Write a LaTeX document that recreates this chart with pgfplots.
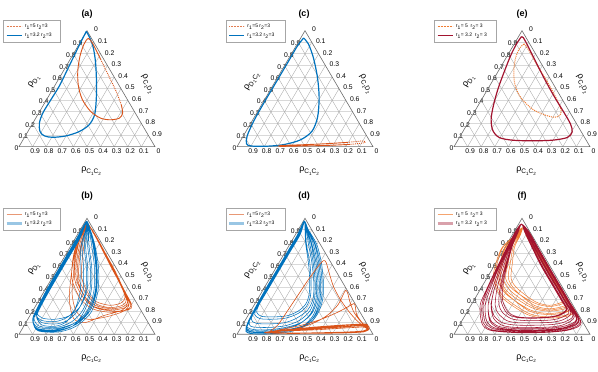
\documentclass[border=0pt]{standalone}
\usepackage{fontspec}
\setmainfont{Liberation Sans}
\usepackage{pgfplots}
\pgfplotsset{compat=1.18}

\definecolor{mblue}{RGB}{0,114,189}
\definecolor{morange}{RGB}{217,83,25}
\definecolor{mcrim}{RGB}{162,20,47}
\definecolor{lorange}{RGB}{240,125,50}

\tikzset{
  hgrid/.style={gray!30, line width=0.9pt},
  dgrid/.style={gray!70, line width=0.35pt},
  frame/.style={gray!85!black, line width=0.6pt},
  tk/.style={font=\fontsize{6.8}{7}\selectfont, inner sep=0pt},
  albl/.style={font=\fontsize{9}{10}\selectfont, inner sep=0pt},
  ttl/.style={font=\bfseries\fontsize{9}{10}\selectfont},
  legtxt/.style={font=\fontsize{5}{6}\selectfont, inner sep=0pt},
  ldot/.style={#1, line width=0.9pt, dash pattern=on 0.6pt off 0.9pt},
  lthin/.style={#1, line width=0.6pt},
  lfat/.style={#1, opacity=0.4, line width=2.2pt},
}

% rho with subscripts
\newcommand{\sbs}[1]{\raisebox{-0.4ex}{\fontsize{4.5}{5}\selectfont #1}}
\newcommand{\rlab}[4]{ρ\raisebox{-0.5ex}{\fontsize{6.5}{7}\selectfont #1\sbs{#2}#3\sbs{#4}}}
\newcommand{\rlabone}[2]{ρ\raisebox{-0.5ex}{\fontsize{6.5}{7}\selectfont #1\sbs{#2}}}
\newcommand{\rr}[2]{r\textsubscript{1}=#1 r\textsubscript{2}=#2}
\newcommand{\rs}[2]{r\textsubscript{1}= #1\ \ r\textsubscript{2}= #2}

% boxed two-row key: x, y (rel axis), box width, style 1, text 1, style 2, text 2
\newcommand{\keybox}[7]{%
  \draw[draw=gray!70, fill=white, line width=0.4pt] (rel axis cs:#1,#2) rectangle ++(#3,-22pt);
  \draw[#4] (rel axis cs:#1,#2) ++(3pt,-6.5pt) -- ++(15pt,0pt);
  \draw[#6] (rel axis cs:#1,#2) ++(3pt,-15.5pt) -- ++(15pt,0pt);
  \path (rel axis cs:#1,#2) ++(21pt,-6.5pt) node[anchor=west, legtxt] {#5};
  \path (rel axis cs:#1,#2) ++(21pt,-15.5pt) node[anchor=west, legtxt] {#7};
}

\pgfplotsset{
  tern/.style={
    scale only axis, width=136pt, height=116pt,
    xmin=0, xmax=1, ymin=0, ymax=1,
    hide axis, clip=false, anchor=south west,
  },
}

% triangle, grid, ticks and axis names
\newcommand{\ternframe}[1]{%
  \pgfplotsinvokeforeach{1,...,9}{%
    \draw[hgrid] (axis cs:##1/20,##1/10) -- (axis cs:1-##1/20,##1/10);
  }
  \pgfplotsinvokeforeach{1,...,9}{%
    \draw[dgrid] (axis cs:##1/10,0) -- (axis cs:0.5+##1/20,1-##1/10);
    \draw[dgrid] (axis cs:1-##1/10,0) -- (axis cs:0.5-##1/20,1-##1/10);
    \node[tk,xshift=-2.5pt,yshift=-1.2pt] at (axis cs:##1/20,##1/10) {0.##1};
    \node[tk,xshift=9pt,yshift=1.2pt] at (axis cs:0.5+##1/20,1-##1/10) {0.##1};
    \node[tk,xshift=2.5pt,yshift=-4.8pt] at (axis cs:1-##1/10,0) {0.##1};
  }
  \draw[frame] (axis cs:0,0) -- (axis cs:1,0) -- (axis cs:0.5,1) -- cycle;
  \node[tk,xshift=-2.5pt,yshift=-1.5pt] at (axis cs:0,0) {0};
  \node[tk,xshift=9pt,yshift=1.2pt] at (axis cs:0.5,1) {0};
  \node[tk,xshift=3.5pt,yshift=-4.5pt] at (axis cs:1,0) {0};
  \node[albl,rotate=60] at (axis cs:0.11,0.56) {#1};
  \node[albl,rotate=-60] at (axis cs:0.945,0.54) {\rlab{C}{1}{D}{2}};
  \node[albl] at (axis cs:0.53,-0.21) {\rlab{C}{1}{C}{2}};
}

\begin{document}
\begin{tikzpicture}
\path[use as bounding box] (0,0) rectangle (598pt,372pt);

\node[ttl] at (87pt,358pt) {(a)};
\node[ttl] at (304pt,358pt) {(c)};
\node[ttl] at (522pt,358pt) {(e)};
\node[ttl] at (87pt,176pt) {(b)};
\node[ttl] at (304pt,176pt) {(d)};
\node[ttl] at (522pt,176pt) {(f)};

% ---------------- (a)
\begin{axis}[tern, at={(19pt,225.3pt)}]
\ternframe{\rlabone{D}{1}}
\addplot[morange, densely dotted, line width=0.9pt, smooth] coordinates {
(0.600,0.754) (0.660,0.609) (0.714,0.478) (0.752,0.362)};
\addplot[mblue, line width=1.2pt, smooth] coordinates {
(0.495,0.994) (0.466,0.928) (0.417,0.812) (0.357,0.667) (0.296,0.522) (0.235,0.406)
(0.175,0.290) (0.150,0.203) (0.155,0.130) (0.187,0.093) (0.248,0.081) (0.345,0.093)
(0.442,0.130) (0.515,0.188) (0.556,0.275) (0.568,0.406) (0.570,0.551) (0.563,0.725)
(0.546,0.855) (0.519,0.942) (0.495,0.994)};
\addplot[morange, line width=0.9pt, smooth] coordinates {
(0.752,0.362) (0.762,0.290) (0.738,0.246) (0.672,0.232) (0.600,0.246) (0.527,0.304)
(0.466,0.406) (0.437,0.522) (0.432,0.652) (0.449,0.783) (0.478,0.884) (0.510,0.933)
(0.544,0.884) (0.600,0.754)};
\keybox{-0.1125}{1.092}{57pt}{ldot=morange!75}{\rr{5}{3}}{color=mblue, line width=1.1pt}{\rr{3.2}{3}}
\end{axis}

% ---------------- (c)
\begin{axis}[tern, at={(237pt,225.3pt)}]
\ternframe{\rlab{D}{1}{C}{2}}
\addplot[morange, densely dotted, line width=0.9pt, smooth] coordinates {
(0.809,0.037) (0.928,0.049) (0.938,0.034) (0.834,0.020)};
\addplot[mblue, line width=1.2pt, smooth] coordinates {
(0.490,0.937) (0.443,0.866) (0.372,0.723) (0.285,0.551) (0.199,0.380) (0.124,0.223)
(0.075,0.094) (0.070,0.025) (0.104,0.006) (0.215,0.004) (0.339,0.017) (0.463,0.057)
(0.550,0.131) (0.592,0.251) (0.604,0.423) (0.592,0.594) (0.562,0.766) (0.525,0.886)
(0.490,0.937)};
\addplot[morange, line width=0.9pt, smooth] coordinates {
(0.834,0.020) (0.661,0.011) (0.463,0.006) (0.314,0.003) (0.327,0.011) (0.413,0.014)
(0.611,0.023) (0.809,0.037)};
\keybox{-0.079}{1.092}{59pt}{ldot=morange!75}{\rr{5}{3}}{color=mblue, line width=1.1pt}{\rr{3.2}{3}}
\end{axis}

% ---------------- (e)
\begin{axis}[tern, at={(454pt,225.3pt)}]
\ternframe{\rlabone{D}{1}}
\addplot[lorange, densely dotted, line width=1pt, smooth] coordinates {
(0.516,0.887) (0.557,0.817) (0.625,0.676) (0.698,0.535) (0.759,0.400) (0.788,0.310)
(0.776,0.268) (0.735,0.254) (0.662,0.276) (0.577,0.324) (0.491,0.423) (0.448,0.535)
(0.440,0.662) (0.455,0.775) (0.484,0.851) (0.516,0.887)};
\addplot[mcrim, line width=1.2pt, smooth] coordinates {
(0.496,0.949) (0.460,0.887) (0.418,0.789) (0.370,0.648) (0.326,0.507) (0.292,0.366)
(0.273,0.239) (0.285,0.141) (0.333,0.079) (0.431,0.056) (0.577,0.051) (0.723,0.056)
(0.832,0.079) (0.869,0.127) (0.856,0.197) (0.808,0.296) (0.735,0.437) (0.662,0.592)
(0.589,0.761) (0.535,0.887) (0.509,0.941) (0.496,0.949)};
\keybox{-0.142}{1.092}{62pt}{ldot=lorange}{\rs{5}{3}}{color=mcrim, line width=1.1pt}{\rs{3.2}{3}}
\end{axis}

% ---------------- (b)
\begin{axis}[tern, at={(19pt,37.7pt)}]
\ternframe{\rlabone{D}{1}}
\addplot[morange, line width=0.5pt, smooth] coordinates {
(0.505,0.95) (0.555,0.86) (0.625,0.71) (0.695,0.55) (0.75,0.42) (0.80,0.29) (0.77,0.24) (0.68,0.22) (0.56,0.25) (0.48,0.33) (0.42,0.48) (0.425,0.64) (0.45,0.79) (0.48,0.90)
(0.505,0.95) (0.56,0.86) (0.63,0.71) (0.70,0.55) (0.76,0.41) (0.82,0.26) (0.79,0.21) (0.67,0.19) (0.54,0.22) (0.45,0.31) (0.39,0.47) (0.395,0.64) (0.425,0.79) (0.47,0.90)
(0.51,0.945) (0.555,0.86) (0.62,0.71) (0.69,0.55) (0.745,0.43) (0.78,0.32) (0.75,0.27) (0.67,0.25) (0.57,0.28) (0.51,0.35) (0.46,0.49) (0.465,0.64) (0.48,0.79) (0.49,0.90)
(0.505,0.95) (0.56,0.86) (0.625,0.71) (0.70,0.55) (0.755,0.42) (0.81,0.27) (0.77,0.20) (0.64,0.15) (0.50,0.13) (0.42,0.20) (0.39,0.35) (0.40,0.50) (0.41,0.66) (0.44,0.80) (0.48,0.90)
(0.505,0.95) (0.553,0.86) (0.622,0.71) (0.692,0.55) (0.748,0.42) (0.79,0.30) (0.76,0.25) (0.67,0.23) (0.57,0.26) (0.50,0.34) (0.44,0.48) (0.445,0.64) (0.465,0.79) (0.485,0.90)
(0.505,0.95) (0.56,0.86) (0.63,0.71) (0.705,0.55) (0.765,0.40) (0.83,0.25) (0.80,0.21) (0.69,0.20) (0.56,0.23) (0.47,0.32) (0.41,0.47) (0.415,0.64) (0.44,0.79) (0.475,0.90)
(0.505,0.95) (0.555,0.86) (0.625,0.71) (0.695,0.55) (0.75,0.42) (0.80,0.28) (0.76,0.21) (0.62,0.16) (0.48,0.10) (0.40,0.14) (0.37,0.30) (0.38,0.47) (0.40,0.64) (0.43,0.79) (0.47,0.90)
(0.505,0.95) (0.557,0.86) (0.627,0.71) (0.698,0.55) (0.755,0.42) (0.81,0.28) (0.78,0.23) (0.68,0.21) (0.55,0.24) (0.48,0.33) (0.43,0.48) (0.435,0.64) (0.46,0.79) (0.485,0.90) (0.505,0.95)};
\addplot[mblue, line width=0.5pt, smooth] coordinates {
(0.495,0.975) (0.42,0.82) (0.32,0.62) (0.22,0.42) (0.14,0.24) (0.10,0.12) (0.14,0.04) (0.28,0.03) (0.41,0.08) (0.51,0.20) (0.56,0.37) (0.565,0.57) (0.545,0.76) (0.52,0.90)
(0.497,0.97) (0.43,0.82) (0.33,0.62) (0.23,0.42) (0.15,0.24) (0.11,0.14) (0.15,0.07) (0.28,0.06) (0.39,0.11) (0.47,0.21) (0.52,0.37) (0.525,0.57) (0.505,0.76) (0.51,0.90)
(0.495,0.975) (0.425,0.82) (0.325,0.62) (0.225,0.42) (0.145,0.24) (0.105,0.11) (0.14,0.03) (0.29,0.02) (0.42,0.07) (0.53,0.19) (0.58,0.37) (0.585,0.57) (0.56,0.76) (0.525,0.90)
(0.498,0.965) (0.44,0.82) (0.34,0.62) (0.24,0.42) (0.16,0.25) (0.13,0.16) (0.17,0.10) (0.28,0.09) (0.37,0.13) (0.44,0.22) (0.49,0.37) (0.495,0.57) (0.48,0.76) (0.50,0.90)
(0.495,0.975) (0.42,0.82) (0.32,0.62) (0.22,0.42) (0.14,0.24) (0.10,0.125) (0.135,0.05) (0.27,0.04) (0.40,0.09) (0.50,0.20) (0.55,0.37) (0.555,0.57) (0.535,0.76) (0.515,0.90)
(0.497,0.97) (0.435,0.82) (0.335,0.62) (0.235,0.42) (0.155,0.25) (0.125,0.17) (0.165,0.12) (0.27,0.11) (0.36,0.15) (0.42,0.23) (0.47,0.37) (0.475,0.57) (0.465,0.76) (0.495,0.90)
(0.495,0.975) (0.42,0.82) (0.32,0.62) (0.22,0.42) (0.14,0.24) (0.10,0.13) (0.14,0.06) (0.28,0.05) (0.415,0.10) (0.52,0.20) (0.57,0.37) (0.575,0.57) (0.555,0.76) (0.52,0.90)
(0.496,0.972) (0.43,0.82) (0.33,0.62) (0.23,0.42) (0.15,0.24) (0.105,0.115) (0.14,0.035) (0.27,0.025) (0.40,0.075) (0.48,0.20) (0.53,0.37) (0.535,0.57) (0.515,0.76) (0.51,0.90)
(0.498,0.965) (0.445,0.82) (0.345,0.62) (0.245,0.42) (0.165,0.25) (0.13,0.15) (0.17,0.08) (0.27,0.07) (0.35,0.11) (0.41,0.21) (0.45,0.37) (0.455,0.57) (0.455,0.76) (0.49,0.90)
(0.496,0.972) (0.425,0.82) (0.325,0.62) (0.225,0.42) (0.15,0.26) (0.13,0.19) (0.17,0.14) (0.27,0.13) (0.37,0.16) (0.45,0.24) (0.50,0.38) (0.505,0.57) (0.49,0.76) (0.505,0.90)
(0.495,0.975) (0.42,0.82) (0.32,0.62) (0.22,0.42) (0.14,0.24) (0.10,0.12) (0.14,0.045) (0.28,0.035) (0.42,0.085) (0.52,0.20) (0.565,0.37) (0.57,0.57) (0.55,0.76) (0.52,0.90) (0.495,0.975)};
\keybox{-0.1125}{1.089}{57pt}{lthin=morange!60}{\rr{5}{3}}{lfat=mblue}{\rr{3.2}{3}}
\end{axis}

% ---------------- (d)
\begin{axis}[tern, at={(237pt,37.7pt)}]
\ternframe{\rlab{D}{1}{C}{2}}
\addplot[mblue, line width=0.55pt, smooth] coordinates {
(0.495,0.975) (0.448,0.86) (0.368,0.70) (0.288,0.54) (0.208,0.38) (0.128,0.21) (0.078,0.09) (0.068,0.026) (0.118,0.006) (0.24,0.006) (0.36,0.026) (0.48,0.066) (0.56,0.163) (0.60,0.30) (0.605,0.45) (0.59,0.62) (0.56,0.78) (0.52,0.90)
(0.497,0.97) (0.452,0.86) (0.372,0.70) (0.292,0.54) (0.212,0.38) (0.132,0.21) (0.082,0.09) (0.072,0.035) (0.122,0.015) (0.24,0.015) (0.36,0.035) (0.51,0.075) (0.59,0.17) (0.63,0.30) (0.635,0.45) (0.62,0.62) (0.585,0.78) (0.525,0.90)
(0.496,0.972) (0.46,0.86) (0.38,0.70) (0.30,0.54) (0.22,0.38) (0.15,0.24) (0.13,0.17) (0.17,0.135) (0.26,0.13) (0.36,0.14) (0.45,0.18) (0.51,0.24) (0.54,0.33) (0.545,0.46) (0.535,0.62) (0.51,0.78) (0.505,0.90)
(0.495,0.975) (0.45,0.86) (0.37,0.70) (0.29,0.54) (0.21,0.38) (0.13,0.21) (0.08,0.09) (0.07,0.05) (0.12,0.03) (0.24,0.03) (0.36,0.05) (0.46,0.09) (0.54,0.175) (0.58,0.30) (0.585,0.45) (0.57,0.62) (0.545,0.78) (0.515,0.90)
(0.496,0.972) (0.455,0.86) (0.375,0.70) (0.295,0.54) (0.215,0.38) (0.14,0.22) (0.105,0.13) (0.14,0.095) (0.24,0.09) (0.35,0.10) (0.44,0.14) (0.52,0.21) (0.56,0.31) (0.565,0.45) (0.55,0.62) (0.525,0.78) (0.51,0.90)
(0.494,0.978) (0.445,0.86) (0.365,0.70) (0.285,0.54) (0.205,0.38) (0.125,0.21) (0.075,0.09) (0.065,0.024) (0.115,0.004) (0.25,0.004) (0.38,0.02) (0.49,0.065) (0.57,0.16) (0.61,0.30) (0.615,0.45) (0.60,0.62) (0.57,0.78) (0.52,0.90)
(0.496,0.972) (0.452,0.86) (0.372,0.70) (0.292,0.54) (0.212,0.38) (0.135,0.21) (0.09,0.11) (0.10,0.07) (0.15,0.06) (0.25,0.06) (0.36,0.075) (0.46,0.12) (0.535,0.20) (0.57,0.31) (0.575,0.45) (0.56,0.62) (0.535,0.78) (0.515,0.90)
(0.495,0.975) (0.45,0.86) (0.37,0.70) (0.29,0.54) (0.21,0.38) (0.13,0.21) (0.08,0.09) (0.07,0.04) (0.12,0.02) (0.24,0.02) (0.37,0.04) (0.50,0.08) (0.58,0.17) (0.62,0.30) (0.625,0.45) (0.61,0.62) (0.575,0.78) (0.52,0.90)
(0.497,0.97) (0.465,0.86) (0.385,0.70) (0.305,0.54) (0.225,0.38) (0.16,0.25) (0.145,0.19) (0.18,0.155) (0.27,0.15) (0.37,0.16) (0.45,0.20) (0.505,0.26) (0.53,0.34) (0.535,0.46) (0.525,0.62) (0.505,0.78) (0.50,0.90)
(0.495,0.975) (0.448,0.86) (0.368,0.70) (0.288,0.54) (0.208,0.38) (0.128,0.21) (0.078,0.09) (0.075,0.06) (0.125,0.04) (0.24,0.04) (0.36,0.06) (0.47,0.10) (0.55,0.18) (0.59,0.30) (0.595,0.45) (0.58,0.62) (0.55,0.78) (0.515,0.90) (0.495,0.975)};
\addplot[morange, line width=0.6pt, smooth] coordinates {
(0.20,0.015) (0.40,0.010) (0.60,0.012) (0.80,0.018) (0.93,0.030) (0.965,0.052) (0.945,0.078) (0.82,0.070) (0.62,0.052) (0.42,0.035) (0.26,0.025)
(0.21,0.012) (0.40,0.007) (0.62,0.010) (0.82,0.016) (0.94,0.026) (0.972,0.045) (0.955,0.082) (0.84,0.080) (0.64,0.062) (0.44,0.042) (0.30,0.028)
(0.24,0.02) (0.30,0.08) (0.37,0.20) (0.45,0.34) (0.53,0.48) (0.60,0.59) (0.635,0.635) (0.655,0.62) (0.68,0.52) (0.71,0.41) (0.76,0.30) (0.82,0.20) (0.88,0.12) (0.93,0.07) (0.96,0.04) (0.93,0.02) (0.80,0.012) (0.60,0.008) (0.40,0.008) (0.25,0.012)
(0.22,0.02) (0.35,0.03) (0.55,0.045) (0.75,0.06) (0.90,0.072) (0.955,0.065) (0.95,0.035) (0.85,0.022) (0.65,0.014) (0.45,0.010) (0.30,0.012)
(0.26,0.018) (0.40,0.04) (0.55,0.09) (0.66,0.16) (0.74,0.25) (0.78,0.34) (0.80,0.38) (0.815,0.35) (0.83,0.28) (0.86,0.19) (0.91,0.11) (0.95,0.06) (0.94,0.03) (0.80,0.016) (0.60,0.011) (0.40,0.009) (0.23,0.012)
(0.28,0.03) (0.45,0.05) (0.65,0.07) (0.85,0.085) (0.95,0.088) (0.96,0.07) (0.96,0.035) (0.86,0.02) (0.66,0.013) (0.46,0.010) (0.32,0.012)
(0.24,0.022) (0.40,0.030) (0.60,0.040) (0.80,0.055) (0.92,0.062) (0.955,0.055) (0.935,0.03) (0.80,0.02) (0.60,0.014) (0.40,0.011) (0.27,0.015)
(0.30,0.035) (0.48,0.08) (0.62,0.13) (0.74,0.19) (0.82,0.24) (0.86,0.265) (0.87,0.24) (0.88,0.17) (0.92,0.10) (0.96,0.055) (0.95,0.03) (0.85,0.018) (0.65,0.012) (0.45,0.01) (0.33,0.014)
(0.25,0.025) (0.42,0.04) (0.62,0.055) (0.82,0.07) (0.93,0.078) (0.962,0.06) (0.95,0.03) (0.82,0.017) (0.62,0.011) (0.42,0.009) (0.26,0.013)};
\keybox{-0.079}{1.089}{59pt}{lthin=morange!60}{\rr{5}{3}}{lfat=mblue}{\rr{3.2}{3}}
\end{axis}

% ---------------- (f)
\begin{axis}[tern, at={(454pt,37.7pt)}]
\ternframe{\rlabone{D}{1}}
\addplot[lorange, line width=0.5pt, smooth] coordinates {
(0.505,0.92) (0.555,0.84) (0.615,0.72) (0.685,0.58) (0.755,0.44) (0.805,0.34) (0.86,0.25) (0.82,0.22) (0.70,0.20) (0.57,0.23) (0.40,0.36) (0.34,0.48) (0.36,0.62) (0.39,0.75) (0.47,0.86)
(0.505,0.92) (0.56,0.84) (0.62,0.72) (0.69,0.58) (0.76,0.44) (0.815,0.31) (0.88,0.22) (0.84,0.17) (0.70,0.15) (0.55,0.18) (0.36,0.33) (0.30,0.48) (0.32,0.62) (0.36,0.75) (0.46,0.86)
(0.505,0.92) (0.54,0.84) (0.60,0.72) (0.67,0.58) (0.74,0.44) (0.78,0.38) (0.83,0.29) (0.79,0.26) (0.70,0.24) (0.59,0.27) (0.44,0.38) (0.38,0.48) (0.40,0.62) (0.42,0.75) (0.48,0.86)
(0.505,0.92) (0.555,0.84) (0.615,0.72) (0.685,0.58) (0.755,0.44) (0.81,0.325) (0.87,0.235) (0.83,0.20) (0.70,0.18) (0.56,0.21) (0.38,0.35) (0.32,0.48) (0.34,0.62) (0.375,0.75) (0.465,0.86)
(0.505,0.92) (0.545,0.84) (0.605,0.72) (0.675,0.58) (0.745,0.44) (0.79,0.36) (0.84,0.27) (0.80,0.24) (0.70,0.22) (0.59,0.25) (0.46,0.37) (0.40,0.48) (0.415,0.62) (0.435,0.75) (0.485,0.86)
(0.505,0.92) (0.56,0.84) (0.62,0.72) (0.69,0.58) (0.76,0.44) (0.82,0.30) (0.885,0.21) (0.845,0.16) (0.70,0.14) (0.54,0.17) (0.35,0.32) (0.29,0.48) (0.31,0.62) (0.355,0.75) (0.455,0.86)
(0.505,0.92) (0.55,0.84) (0.61,0.72) (0.68,0.58) (0.75,0.44) (0.80,0.35) (0.85,0.26) (0.81,0.23) (0.70,0.21) (0.58,0.24) (0.42,0.37) (0.36,0.48) (0.38,0.62) (0.405,0.75) (0.475,0.86)
(0.505,0.92) (0.555,0.84) (0.615,0.72) (0.685,0.58) (0.755,0.44) (0.81,0.33) (0.865,0.24) (0.825,0.19) (0.70,0.17) (0.555,0.20) (0.39,0.35) (0.33,0.48) (0.35,0.62) (0.38,0.75) (0.465,0.86)
(0.505,0.92) (0.535,0.84) (0.595,0.72) (0.665,0.58) (0.735,0.44) (0.77,0.39) (0.82,0.30) (0.78,0.27) (0.70,0.25) (0.60,0.28) (0.47,0.39) (0.42,0.48) (0.43,0.62) (0.445,0.75) (0.49,0.86) (0.505,0.92)};
\addplot[mcrim, line width=0.55pt, smooth] coordinates {
(0.496,0.95) (0.45,0.88) (0.404,0.78) (0.345,0.64) (0.288,0.50) (0.239,0.37) (0.205,0.25) (0.215,0.10) (0.275,0.04) (0.44,0.02) (0.58,0.018) (0.72,0.024) (0.85,0.045) (0.93,0.11) (0.843,0.29) (0.773,0.43) (0.693,0.59) (0.61,0.76) (0.55,0.885)
(0.496,0.95) (0.46,0.88) (0.418,0.78) (0.37,0.64) (0.326,0.50) (0.292,0.37) (0.273,0.25) (0.29,0.14) (0.35,0.08) (0.44,0.06) (0.58,0.058) (0.72,0.064) (0.81,0.085) (0.885,0.15) (0.82,0.29) (0.75,0.43) (0.67,0.59) (0.592,0.76) (0.536,0.885)
(0.497,0.948) (0.47,0.88) (0.432,0.78) (0.395,0.64) (0.364,0.50) (0.345,0.37) (0.35,0.27) (0.39,0.18) (0.46,0.145) (0.58,0.138) (0.70,0.145) (0.78,0.165) (0.83,0.21) (0.795,0.29) (0.725,0.43) (0.645,0.59) (0.572,0.76) (0.5215,0.885)
(0.496,0.95) (0.454,0.88) (0.41,0.78) (0.355,0.64) (0.303,0.50) (0.26,0.37) (0.229,0.25) (0.24,0.115) (0.30,0.055) (0.44,0.035) (0.58,0.033) (0.72,0.039) (0.835,0.06) (0.915,0.12) (0.835,0.29) (0.765,0.43) (0.685,0.59) (0.604,0.76) (0.5455,0.885)
(0.496,0.95) (0.464,0.88) (0.424,0.78) (0.38,0.64) (0.341,0.50) (0.313,0.37) (0.303,0.25) (0.325,0.18) (0.385,0.12) (0.46,0.10) (0.58,0.098) (0.72,0.104) (0.80,0.125) (0.86,0.18) (0.81,0.29) (0.74,0.43) (0.66,0.59) (0.584,0.76) (0.5305,0.885)
(0.495,0.952) (0.449,0.88) (0.403,0.78) (0.3425,0.64) (0.284,0.50) (0.233,0.37) (0.192,0.25) (0.205,0.095) (0.265,0.035) (0.43,0.015) (0.58,0.013) (0.72,0.019) (0.855,0.04) (0.935,0.10) (0.845,0.29) (0.775,0.43) (0.695,0.59) (0.612,0.76) (0.5515,0.885)
(0.497,0.948) (0.468,0.88) (0.429,0.78) (0.39,0.64) (0.356,0.50) (0.335,0.37) (0.33,0.26) (0.355,0.19) (0.42,0.135) (0.50,0.12) (0.60,0.118) (0.72,0.124) (0.79,0.145) (0.845,0.19) (0.80,0.29) (0.73,0.43) (0.65,0.59) (0.576,0.76) (0.5245,0.885)
(0.496,0.95) (0.457,0.88) (0.414,0.78) (0.362,0.64) (0.315,0.50) (0.276,0.37) (0.251,0.25) (0.265,0.13) (0.325,0.07) (0.44,0.05) (0.58,0.048) (0.72,0.054) (0.825,0.075) (0.90,0.13) (0.83,0.29) (0.76,0.43) (0.68,0.59) (0.60,0.76) (0.5425,0.885)
(0.496,0.95) (0.46,0.88) (0.418,0.78) (0.37,0.64) (0.326,0.50) (0.292,0.37) (0.275,0.25) (0.295,0.16) (0.355,0.10) (0.45,0.08) (0.58,0.078) (0.72,0.084) (0.81,0.105) (0.875,0.16) (0.815,0.29) (0.745,0.43) (0.665,0.59) (0.588,0.76) (0.5335,0.885)
(0.496,0.95) (0.452,0.88) (0.407,0.78) (0.35,0.64) (0.296,0.50) (0.249,0.37) (0.214,0.25) (0.228,0.108) (0.29,0.048) (0.44,0.028) (0.58,0.026) (0.72,0.032) (0.84,0.053) (0.92,0.115) (0.84,0.29) (0.77,0.43) (0.69,0.59) (0.6095,0.76) (0.5485,0.885)
(0.497,0.948) (0.472,0.88) (0.435,0.78) (0.40,0.64) (0.372,0.50) (0.356,0.37) (0.36,0.28) (0.40,0.19) (0.47,0.15) (0.58,0.143) (0.70,0.15) (0.775,0.17) (0.825,0.215) (0.79,0.29) (0.72,0.43) (0.64,0.59) (0.568,0.76) (0.5185,0.885)
(0.496,0.95) (0.457,0.88) (0.414,0.78) (0.362,0.64) (0.315,0.50) (0.276,0.37) (0.251,0.25) (0.262,0.12) (0.32,0.06) (0.44,0.04) (0.58,0.038) (0.72,0.044) (0.83,0.065) (0.905,0.125) (0.835,0.29) (0.765,0.43) (0.685,0.59) (0.604,0.76) (0.5455,0.885) (0.496,0.95)};
\keybox{-0.142}{1.089}{62pt}{lthin=lorange!70}{\rs{5}{3}}{lfat=mcrim}{\rs{3.2}{3}}
\end{axis}
\end{tikzpicture}
\end{document}
